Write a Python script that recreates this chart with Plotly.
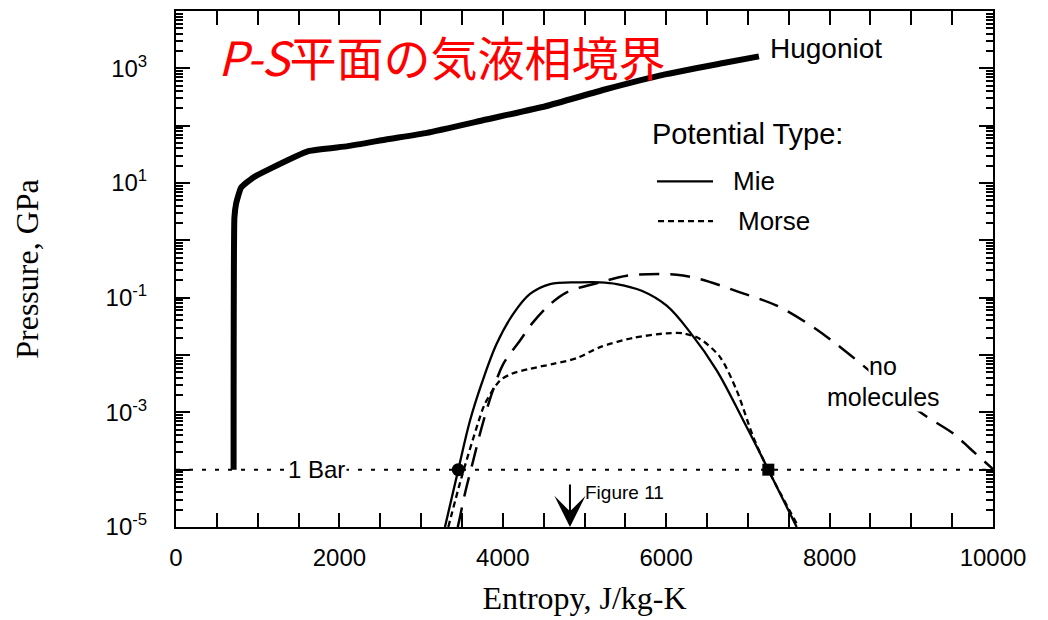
import plotly.graph_objects as go

# ---------------- data ----------------
# Hugoniot
hug_S = [705, 715, 735, 796, 942, 1136, 1619, 2104, 2588, 3071, 3797, 4523, 5249, 5973, 6700, 7135]
hug_P = [1e-4, 2.5, 4.3, 8.3, 12.4, 17.3, 36, 44, 58, 75, 128, 218, 427, 776, 1236, 1618]

# Mie potential (solid)
mie_S = [3292, 3455, 3599, 3742, 3925, 4128, 4333, 4578, 4945, 5190, 5394, 5700, 6006, 6291, 6618, 6944, 7250, 7597]
mie_P = [1e-5, 1e-4, 7.2e-4, 3.2e-3, 0.0157, 0.0521, 0.116, 0.173, 0.185, 0.185, 0.173, 0.132,
         0.0724, 0.0251, 5.4e-3, 7.2e-4, 1e-4, 1e-5]

# Morse potential (short dash)
morse_S = [3333, 3497, 3721, 3782, 3966, 4109, 4333, 4618, 4904, 5190, 5597, 6006, 6209, 6414,
           6659, 6863, 7066, 7250, 7620]
morse_P = [1e-5, 7.5e-5, 8.3e-4, 1.42e-3, 3.6e-3, 4.7e-3, 5.75e-3, 7.0e-3, 8.8e-3, 0.0137, 0.0199,
           0.0239, 0.0239, 0.0191, 9.2e-3, 2.4e-3, 3.7e-4, 9.8e-5, 1e-5]

# No molecules (long dash)
nomol_S = [3449, 3476, 3537, 3639, 3742, 3864, 4006, 4211, 4354, 4537, 4782, 5190, 5517, 5924,
           6129, 6414, 6903, 7353, 7801, 8209, 9106, 9514, 9718, 10000]
nomol_P = [1e-5, 1.5e-5, 3.85e-5, 1.46e-4, 5.5e-4, 2.1e-3, 7.0e-3, 0.0179, 0.0349, 0.0678, 0.124,
           0.185, 0.242, 0.258, 0.251, 0.211, 0.124, 0.0726, 0.0305, 0.0112, 1.01e-3, 4.27e-4,
           2.34e-4, 1.02e-4]

# 1 bar line and its crossing markers
one_bar_P = 1e-4
bar_S_range = [0, 10000]
mie_bar_S = [3455]
morse_bar_S = [7250]
figure11_S = 4822

# axis ticks
x_major = [0, 2000, 4000, 6000, 8000, 10000]
x_labels = ["0", "2000", "4000", "6000", "8000", "10000"]
x_minor = [s for s in range(0, 10001, 500) if s % 2000 != 0]
y_label_decades = [-5, -3, -1, 1, 3]
y_major = [10.0 ** d for d in y_label_decades]
y_text = [f"10<sup>{d}</sup>" for d in y_label_decades]
y_unlabeled = [10.0 ** d for d in [-4, -2, 0, 2, 4]]
y_minor = [m * 10.0 ** d for d in range(-5, 4) for m in range(2, 10)]

SANS = "Liberation Sans, Arial, sans-serif"
SERIF = "Liberation Serif, Times New Roman, serif"

fig = go.Figure()

fig.add_trace(go.Scatter(x=bar_S_range, y=[one_bar_P, one_bar_P], mode="lines",
                         line=dict(color="black", width=2, dash="4px,9px"), showlegend=False))
fig.add_trace(go.Scatter(x=hug_S, y=hug_P, mode="lines", line_shape="spline",
                         line=dict(color="black", width=6, smoothing=0.4), showlegend=False))
fig.add_trace(go.Scatter(x=nomol_S, y=nomol_P, mode="lines", line_shape="spline",
                         line=dict(color="black", width=2.5, dash="20px,11px", smoothing=0.9),
                         showlegend=False))
fig.add_trace(go.Scatter(x=morse_S, y=morse_P, mode="lines", line_shape="spline",
                         line=dict(color="black", width=2.3, dash="6px,4px", smoothing=0.8),
                         showlegend=False))
fig.add_trace(go.Scatter(x=mie_S, y=mie_P, mode="lines", line_shape="spline",
                         line=dict(color="black", width=2.3, smoothing=1.0), showlegend=False))
fig.add_trace(go.Scatter(x=mie_bar_S, y=[one_bar_P], mode="markers",
                         marker=dict(symbol="circle", size=13, color="black"), showlegend=False))
fig.add_trace(go.Scatter(x=morse_bar_S, y=[one_bar_P], mode="markers",
                         marker=dict(symbol="square", size=12, color="black"), showlegend=False))
# empty helper trace so the overlaying tick-only axis (unlabelled decades) is drawn
fig.add_trace(go.Scatter(x=[], y=[], yaxis="y2", showlegend=False, hoverinfo="skip"))

ann = []
ann.append(dict(x=0.049, y=0.913, xref="paper", yref="paper", xanchor="left", yanchor="middle",
                text="<i>P-S</i>平面の気液相境界", showarrow=False,
                font=dict(family="Noto Sans CJK JP", size=47, color="red")))
ann.append(dict(x=7246, y=3.348, xanchor="left", yanchor="middle", text="Hugoniot", showarrow=False,
                font=dict(family=SANS, size=28, color="black")))
ann.append(dict(x=5802, y=1.852, xanchor="left", yanchor="middle", text="Potential Type:",
                showarrow=False, font=dict(family=SANS, size=29, color="black")))
ann.append(dict(x=6793, y=1.035, xanchor="left", yanchor="middle", text="Mie",
                showarrow=False, font=dict(family=SANS, size=26, color="black")))
ann.append(dict(x=6854, y=0.339, xanchor="left", yanchor="middle", text="Morse",
                showarrow=False, font=dict(family=SANS, size=26, color="black")))
ann.append(dict(x=8657, y=-2.20, xanchor="center", yanchor="middle", text="no",
                showarrow=False, bgcolor="white", borderpad=0,
                font=dict(family=SANS, size=25, color="black")))
ann.append(dict(x=8657, y=-2.74, xanchor="center", yanchor="middle", text="molecules",
                showarrow=False, bgcolor="white", borderpad=0,
                font=dict(family=SANS, size=25, color="black")))
ann.append(dict(x=1714, y=-4, xanchor="center", yanchor="middle", text="1 Bar",
                showarrow=False, bgcolor="white", font=dict(family=SANS, size=24, color="black")))
ann.append(dict(x=4982, y=-4.391, xanchor="left", yanchor="middle", text="Figure 11",
                showarrow=False, font=dict(family=SANS, size=19, color="black")))
ann.append(dict(x=figure11_S, y=-5, text="", showarrow=True, ax=0, ay=-44,
                arrowhead=3, arrowsize=2.6, arrowwidth=2, arrowcolor="black"))
fig.update_layout(annotations=ann)

shapes = [
    dict(type="line", xref="paper", yref="paper", x0=0.5887, x1=0.6573, y0=0.6699, y1=0.6699,
         line=dict(color="black", width=2.3)),
    dict(type="line", xref="paper", yref="paper", x0=0.590, x1=0.6573, y0=0.5927, y1=0.5927,
         line=dict(color="black", width=2.3, dash="6px,4px")),
]
fig.update_layout(shapes=shapes)

fig.update_xaxes(range=[0, 10000], tickmode="array", tickvals=x_major, ticktext=x_labels,
                 ticks="inside", ticklen=14, tickwidth=2, tickcolor="black",
                 minor=dict(tickmode="array", tickvals=x_minor, ticks="inside", ticklen=7,
                            tickwidth=2, tickcolor="black"),
                 showline=True, linecolor="black", linewidth=2, mirror="allticks",
                 showgrid=False, zeroline=False,
                 tickfont=dict(family=SANS, size=24, color="black"), ticklabelstandoff=8,
                 title=dict(text="Entropy, J/kg-K", font=dict(family=SERIF, size=32, color="black"),
                            standoff=17))
fig.update_layout(yaxis=dict(type="log", range=[-5, 4], tickmode="array", tickvals=y_major,
                             ticktext=y_text,
                             ticks="inside", ticklen=14, tickwidth=2, tickcolor="black",
                             minor=dict(tickmode="array", tickvals=y_minor, ticks="inside",
                                        ticklen=7, tickwidth=1.5, tickcolor="black"),
                             showline=True, linecolor="black", linewidth=2, mirror="allticks",
                             showgrid=False, zeroline=False,
                             tickfont=dict(family=SANS, size=24, color="black"),
                             ticklabelstandoff=22,
                             title=dict(text="Pressure, GPa",
                                        font=dict(family=SERIF, size=32, color="black"),
                                        standoff=57)),
                  yaxis2=dict(type="log", range=[-5, 4], overlaying="y", side="left", anchor="x",
                              tickmode="array", tickvals=y_unlabeled, showticklabels=False,
                              ticks="inside", ticklen=14, tickwidth=2, tickcolor="black",
                              showline=False, mirror="allticks", showgrid=False, zeroline=False))

fig.update_layout(width=1048, height=620, margin=dict(l=176, r=55, t=9, b=93),
                  plot_bgcolor="white", paper_bgcolor="white", showlegend=False)

fig.write_html("out.html", config={"displayModeBar": False},
               post_script="document.body.style.margin='0';")
